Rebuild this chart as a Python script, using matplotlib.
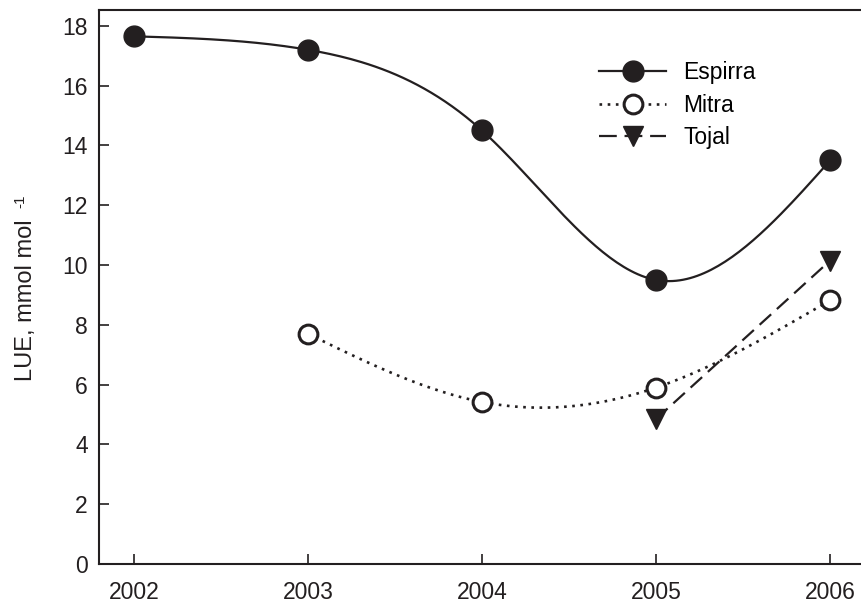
import numpy as np
import matplotlib
matplotlib.use('Agg')
import matplotlib.pyplot as plt

plt.rcParams.update({
    'font.family': ['Liberation Sans', 'DejaVu Sans'],
    'font.size': 16,
})

years = [2002, 2003, 2004, 2005, 2006]
espirra_x = [2002, 2003, 2004, 2005, 2006]
espirra_y = [17.65, 17.2, 14.5, 9.5, 13.5]
mitra_x = [2003, 2004, 2005, 2006]
mitra_y = [7.7, 5.42, 5.9, 8.82]
tojal_x = [2005, 2006]
tojal_y = [4.85, 10.15]

INK = '#231f20'


def natural_spline(x, y, n=200):
    # plain natural cubic spline, just to draw the smooth curve through the points
    x = np.asarray(x, float)
    y = np.asarray(y, float)
    k = len(x)
    h = np.diff(x)
    A = np.zeros((k, k))
    b = np.zeros(k)
    A[0, 0] = A[-1, -1] = 1
    for i in range(1, k - 1):
        A[i, i - 1] = h[i - 1]
        A[i, i] = 2 * (h[i - 1] + h[i])
        A[i, i + 1] = h[i]
        b[i] = 6 * ((y[i + 1] - y[i]) / h[i] - (y[i] - y[i - 1]) / h[i - 1])
    m = np.linalg.solve(A, b)
    xs = np.linspace(x[0], x[-1], n)
    idx = np.clip(np.searchsorted(x, xs) - 1, 0, k - 2)
    t = xs - x[idx]
    hi = h[idx]
    a = (m[idx + 1] - m[idx]) / (6 * hi)
    bb = m[idx] / 2
    c = (y[idx + 1] - y[idx]) / hi - hi * (2 * m[idx] + m[idx + 1]) / 6
    ys = y[idx] + c * t + bb * t ** 2 + a * t ** 3
    return xs, ys


fig = plt.figure(figsize=(8.61, 6.02), dpi=100)
ax = fig.add_axes([99 / 861, 38 / 602, 766 / 861, 554 / 602])

# Espirra
sx, sy = natural_spline(espirra_x, espirra_y)
ax.plot(sx, sy, '-', color=INK, lw=1.6)
ax.plot(espirra_x, espirra_y, 'o', color=INK, ms=15, clip_on=False)

# Mitra
mx, my = natural_spline(mitra_x, mitra_y)
ax.plot(mx, my, ':', color=INK, lw=1.9, dashes=(1, 2.1))
ax.plot(mitra_x, mitra_y, 'o', mfc='white', mec=INK, mew=2.2, ms=13.5)

# Tojal
ax.plot(tojal_x, tojal_y, '--', color=INK, lw=1.6, dashes=(7, 3.5))
ax.plot(tojal_x, tojal_y, 'v', color=INK, ms=14)

# legend proxies
h1, = ax.plot([], [], '-o', color=INK, lw=1.6, ms=15)
h2, = ax.plot([], [], ':o', color=INK, lw=1.9, mfc='white', mew=2.2, ms=13.5, dashes=(1, 2.1))
h3, = ax.plot([], [], '--v', color=INK, lw=1.6, ms=14, dashes=(8, 3.5))
fig.legend([h1, h2, h3], ['Espirra', 'Mitra', 'Tojal'], loc='upper left',
           bbox_to_anchor=(588 / 861, 1 - 50 / 602), frameon=False, fontsize=16.5,
           handlelength=2.9, handletextpad=0.75, labelspacing=0.4, borderpad=0)

ax.set_xlim(2001.8, 2006.2)
ax.set_ylim(0, 18.53)
ax.set_xticks(years)
ax.set_yticks(range(0, 19, 2))
ax.tick_params(direction='in', length=7, width=1.2, colors=INK, labelcolor=INK,
               labelsize=16.5)
ax.tick_params(axis='y', pad=8)
ax.tick_params(axis='x', pad=12)
ax.spines['right'].set_visible(False)
for s in ['left', 'bottom', 'top']:
    ax.spines[s].set_linewidth(1.5)
    ax.spines[s].set_color(INK)

ax.set_ylabel('LUE, mmol mol', fontsize=17, color=INK)
ax.yaxis.set_label_coords(-62 / 766, 0.476)
fig.text(20 / 861, 1 - 201 / 602, '-1', rotation=90, fontsize=11, color=INK,
         ha='center', va='center')

fig.savefig('out.png', dpi=100)
